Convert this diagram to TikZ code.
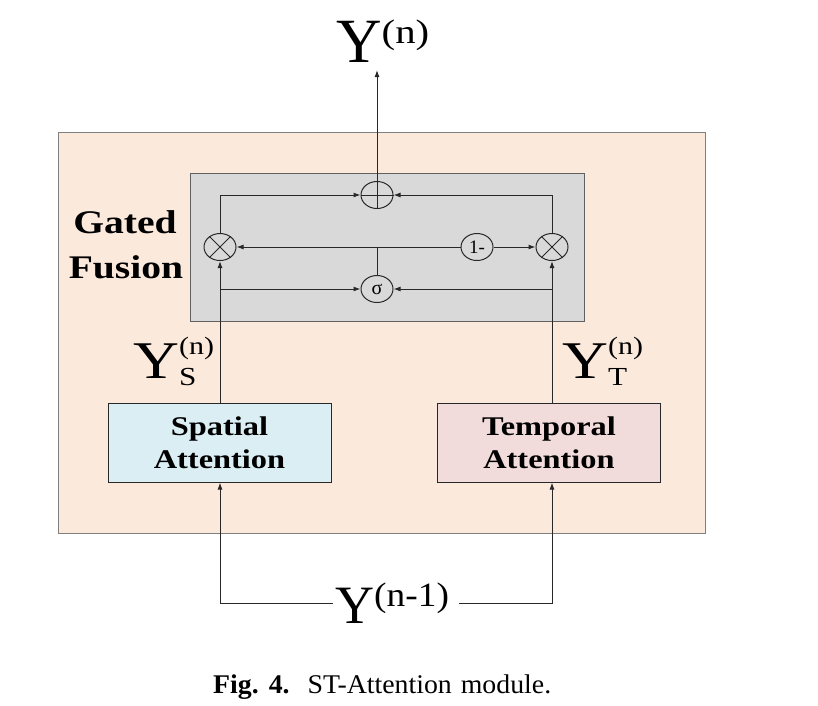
\documentclass[tikz,border=0pt]{standalone}
\usepackage{fontspec}
\setmainfont{Liberation Serif}
\usetikzlibrary{arrows.meta,shapes.geometric}
\definecolor{peach}{RGB}{251,233,220}
\definecolor{peachline}{RGB}{128,128,128}
\definecolor{gfill}{RGB}{217,217,217}
\definecolor{gline}{RGB}{96,96,96}
\definecolor{lc}{RGB}{40,40,40}
\definecolor{bluefill}{RGB}{218,238,243}
\definecolor{pinkfill}{RGB}{242,220,219}
\newcommand\fsz[2]{\fontsize{#1}{#2}\selectfont}
\newfontfamily\stretchfam[FakeStretch=1.2]{Liberation Serif}
\newfontfamily\capfam[FakeStretch=1.03]{Liberation Serif}
\begin{document}
\begin{tikzpicture}[x=1pt,y=-1pt,
  ln/.style={draw=lc, line width=1pt},
  arr/.style={ln, -{Latex[length=7pt,width=5pt]}},
  op/.style={ellipse, draw=lc, line width=1pt, fill=gfill, minimum width=32pt, minimum height=27pt, inner sep=0pt},
  attbox/.style={draw=lc, line width=1pt, minimum width=223pt, minimum height=79pt, align=center, inner sep=0pt,
    font={\stretchfam\bfseries\fsz{27}{33}}},
  lbl/.style={inner sep=0pt, anchor=base west},
  title/.style={inner sep=0pt, anchor=base, font={\stretchfam\bfseries\fsz{33}{33}}}]
\useasboundingbox (0,0) rectangle (818,705);
% containers
\draw[fill=peach, draw=peachline, line width=1pt] (58,132) rectangle (705,533);
\draw[fill=gfill, draw=gline, line width=1pt] (190,173) rectangle (584,321);
% title
\node[title] (gated) at (125,233) {Gated};
\node[title] (fusion) at (126,278) {Fusion};
% operators
\node[op] (plus) at (377,195) {};
\node[op] (mulL) at (220,247) {};
\node[op] (mulR) at (552,247) {};
\node[op, font=\fsz{20}{20}] (sig) at (377,289) {σ};
\node[op, font=\fsz{19}{19}] (onem) at (477,247) {1-};
\draw[ln] (plus.north) -- (plus.south) (plus.east) -- (plus.west);
\foreach \m in {mulL,mulR}{
  \draw[ln] (\m.45) -- (\m.225) (\m.135) -- (\m.315);
}
% attention boxes
\node[attbox, fill=bluefill] (spatial) at (219.5,442.5) {Spatial\\Attention};
\node[attbox, fill=pinkfill] (temporal) at (549,442.5) {Temporal\\Attention};
% labels
\node[lbl] (yn) at (336,62) {\fsz{63}{63}Y\raisebox{19pt}{\addfontfeature{FakeStretch=1.2}\fsz{34}{34}(n)}};
\node[lbl] (yn1) at (335,623) {\fsz{54}{54}Y\raisebox{17pt}{\addfontfeature{FakeStretch=1.1}\fsz{34}{34}(n-1)}};
\node[lbl] (ys) at (133,378) {\addfontfeature{FakeStretch=1.2}\fsz{53}{53}Y\rlap{\raisebox{24pt}{\fsz{25}{25}(n)}}\raisebox{-7pt}{\fsz{26}{26}S}};
\node[lbl] (yt) at (562,378) {\addfontfeature{FakeStretch=1.2}\fsz{53}{53}Y\rlap{\raisebox{24pt}{\fsz{25}{25}(n)}}\raisebox{-7pt}{\fsz{26}{26}T}};
\node[lbl, font=\capfam] (cap) at (213,693) {\fsz{27}{27}\textbf{Fig.\hspace{10pt}4.}\hspace{18pt}ST-Attention\hspace{9pt}module.};
% coordinates
\coordinate (jn) at (377,247);
\coordinate (bl) at (220,289);
\coordinate (br) at (552,289);
\coordinate (ytip) at (377,70);
\coordinate (ll) at (333,603);
\coordinate (rr) at (459,603);
% connectors
\draw[arr] (plus.north) -- (ytip);
\draw[arr] (mulL.north) |- (plus.west);
\draw[arr] (mulR.north) |- (plus.east);
\draw[ln] (sig.north) -- (jn);
\draw[arr] (jn) -- (mulL.east);
\draw[ln] (jn) -- (onem.west);
\draw[arr] (onem.east) -- (mulR.west);
\draw[arr] (spatial.north -| mulL) -- (mulL.south);
\draw[arr] (temporal.north -| mulR) -- (mulR.south);
\draw[arr] (bl) -- (sig.west);
\draw[arr] (br) -- (sig.east);
\draw[arr] (ll) -| (spatial.south -| mulL);
\draw[arr] (rr) -| (temporal.south -| mulR);
\end{tikzpicture}
\end{document}
